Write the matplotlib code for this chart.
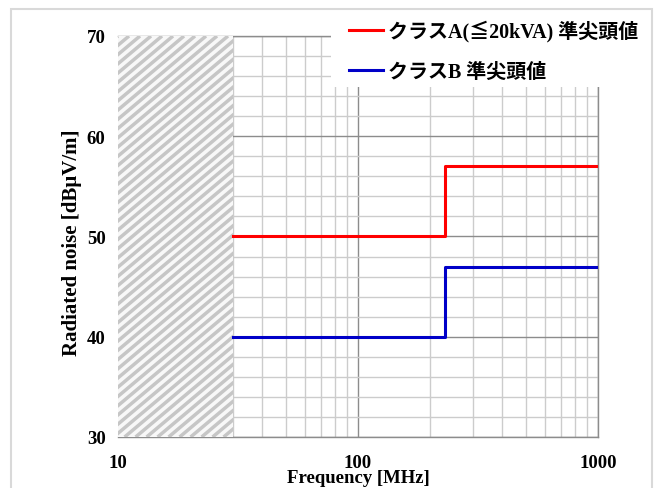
import numpy as np
import matplotlib
matplotlib.use('Agg')
import matplotlib.pyplot as plt
from matplotlib.patches import Rectangle
from matplotlib.collections import LineCollection
from matplotlib.ticker import FixedLocator, NullFormatter, FuncFormatter

plt.rcParams['font.family'] = ['Liberation Serif', 'Noto Sans CJK JP']
plt.rcParams['font.weight'] = 'bold'
plt.rcParams['axes.labelweight'] = 'bold'

# 周波数 [MHz] と限度値 [dBuV/m]
freq = [30, 230, 230, 1000]
class_a = [50, 50, 57, 57]
class_b = [40, 40, 47, 47]
labels = ['クラスA(≦20kVA) 準尖頭値', 'クラスB 準尖頭値']
x_ticks = [10, 100, 1000]
y_ticks = [30, 40, 50, 60, 70]
no_limit = (10, 30)   # 規定なしの帯域

W, H = 654, 489
fig = plt.figure(figsize=(W / 100, H / 100), dpi=100)
ax = fig.add_axes([118 / W, 51 / H, 480 / W, 401 / H])

ax.set_xscale('log')
ax.set_xlim(10, 1000)
ax.set_ylim(30, 70)

# grid
ax.xaxis.set_major_locator(FixedLocator(x_ticks))
ax.xaxis.set_minor_locator(FixedLocator([m * d for d in (10, 100) for m in range(2, 10)]))
ax.xaxis.set_major_formatter(FuncFormatter(lambda v, p: '%d' % v))
ax.xaxis.set_minor_formatter(NullFormatter())
ax.yaxis.set_major_locator(FixedLocator(y_ticks))
ax.yaxis.set_minor_locator(FixedLocator(range(30, 71, 2)))
ax.grid(which='major', color='#8c8c8c', lw=1.0)
ax.grid(which='minor', color='#cccccc', lw=1.0)
ax.set_axisbelow(True)
ax.tick_params(which='both', length=0, labelsize=13.5)
ax.tick_params(axis='x', pad=12)
ax.tick_params(axis='y', pad=9)
plt.setp(ax.get_xticklabels() + ax.get_yticklabels(), fontweight='bold')
for s in ax.spines.values():
    s.set_color('#8c8c8c')
    s.set_linewidth(1.0)
ax.spines['left'].set_visible(False)

# 斜線の帯 (10-30MHz)
span = ax.axvspan(*no_limit, facecolor='#f8f8f8', lw=0, zorder=3)
aw, ah = 480, 401            # axes size in px
step, slope = 11, 0.84       # stripe pitch [px], dy/dx
rise = ah / slope / aw
segs = [[(u, 0), (u + rise, 1)] for u in np.arange(-rise, 0.3, step / aw)]
stripes = LineCollection(segs, colors='#c6c6c6', linewidths=2.5,
                         transform=ax.transAxes, zorder=3.1)
ax.add_collection(stripes)
stripes.set_clip_path(span)

la, = ax.plot(freq, class_a, color='#ff0000', lw=2.2, zorder=4)
lb, = ax.plot(freq, class_b, color='#0000c8', lw=2.2, zorder=4)

ax.set_xlabel('Frequency [MHz]', fontsize=13.5, labelpad=-1)
ax.set_ylabel('Radiated noise [dBμV/m]', fontsize=15, labelpad=3)
ax.yaxis.label.set_y(0.486)

# legend area
fig.patches.append(Rectangle((331 / W, 1 - 88 / H), 318 / W, 78 / H,
                             transform=fig.transFigure, facecolor='white',
                             edgecolor='none', zorder=5))
fig.legend([la, lb], labels, loc='upper left', bbox_to_anchor=(331 / W, 1 - 3 / H),
           frameon=False, fontsize=14.4, handlelength=1.7, handletextpad=0.25,
           labelspacing=1.0).set_zorder(6)

# outer frame
fig.patches.append(Rectangle((11 / W, -0.01), 641 / W, 1 - 10 / H + 0.01,
                             transform=fig.transFigure, facecolor='none',
                             edgecolor='#d9d9d9', lw=1.5, zorder=7))

fig.savefig('out.png', dpi=100)
